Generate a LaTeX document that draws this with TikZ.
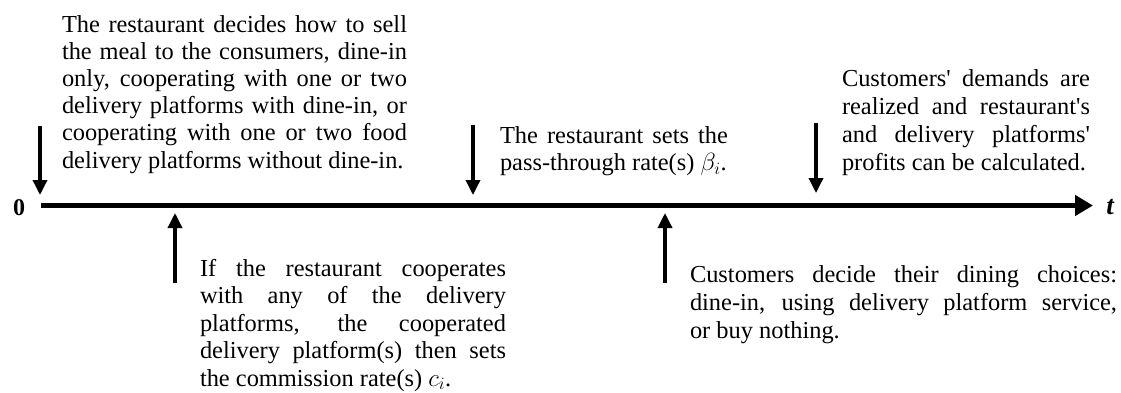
\documentclass[tikz,border=0pt]{standalone}
\usepackage{fontspec}
\setmainfont{Liberation Serif}
\usetikzlibrary{arrows.meta}

% one justified line of a fixed width
\newcommand\jline[2]{\makebox[#1][s]{#2}}
\newcommand\sq{\textquotesingle}

\begin{document}
\begin{tikzpicture}[x=1pt,y=-1pt,
  % multi-line blocks are placed by the baseline of their last line
  txt/.style={anchor=base west,inner sep=0pt,outer sep=0pt,align=left,
    font=\fontsize{24.4}{#1}\selectfont},
  txt/.default={27.6},
  axis/.style={line width=5pt,-{Triangle[length=18pt,width=20pt]}},
  event/.style={line width=3.4pt,-{Triangle[length=15pt,width=14pt]}},
  lbl/.style={inner sep=0pt,font=\fontsize{24}{28}\selectfont\bfseries}]
\useasboundingbox (0,0) rectangle (1121,392);

% time axis
\coordinate (t0) at (41,205.5);
\coordinate (tend) at (1093,205.5);
\draw[axis] (t0) -- (tend);
\node[lbl] (zero) at (19,208) {0};
\node[lbl,font=\fontsize{27}{30}\selectfont\bfseries\itshape] (tlab) at (1110,207.5) {t};

% events above the axis
\coordinate (a1s) at (40,126);   \coordinate (a1e) at (40,195);
\coordinate (a3s) at (473,125);  \coordinate (a3e) at (473,195);
\coordinate (a4s) at (816,123);  \coordinate (a4e) at (816,193);
\draw[event] (a1s) -- (a1e);
\draw[event] (a3s) -- (a3e);
\draw[event] (a4s) -- (a4e);

% events below the axis
\coordinate (a2s) at (175,283);  \coordinate (a2e) at (175,213);
\coordinate (a5s) at (665,283);  \coordinate (a5e) at (665,213);
\draw[event] (a2s) -- (a2e);
\draw[event] (a5s) -- (a5e);

\node[txt=27.2] (s1) at (62,168) {%
  \jline{345pt}{The restaurant decides how to sell}\\
  \jline{345pt}{the meal to the consumers, dine-in}\\
  \jline{345pt}{only, cooperating with one or two}\\
  \jline{345pt}{delivery platforms with dine-in, or}\\
  \jline{345pt}{cooperating with one or two food}\\
  delivery platforms without dine-in.};

\node[txt=27.5] (s2) at (200,386) {%
  \jline{306pt}{If the restaurant cooperates}\\
  \jline{306pt}{with any of the delivery}\\
  \jline{306pt}{platforms, the cooperated}\\
  \jline{306pt}{delivery platform(s) then sets}\\
  the commission rate(s) $c_i$.};

\node[txt=27.5] (s3) at (500,170.5) {%
  \jline{228pt}{The restaurant sets the}\\
  pass-through rate(s) $\beta_i$.};

\node[txt=28] (s4) at (842,170) {%
  \jline{248pt}{Customers\sq{} demands are}\\
  \jline{248pt}{realized and restaurant\sq s}\\
  \jline{248pt}{and delivery platforms\sq}\\
  profits can be calculated.};

\node[txt=28] (s5) at (690,338) {%
  \jline{427pt}{Customers decide their dining choices:}\\
  \jline{427pt}{dine-in, using delivery platform service,}\\
  or buy nothing.};
\end{tikzpicture}
\end{document}
